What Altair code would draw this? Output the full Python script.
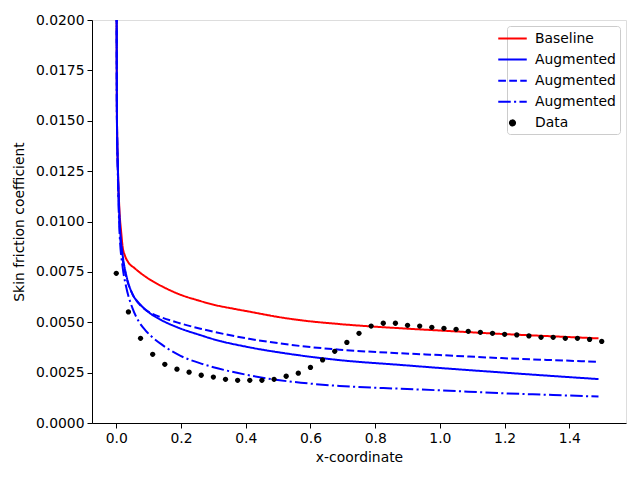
import altair as alt
import pandas as pd

# ---- data ----
x_base = [0.0003, 0.002, 0.005, 0.01, 0.015, 0.02, 0.026, 0.036, 0.057, 0.098, 0.149, 0.201,
          0.252, 0.304, 0.366, 0.41, 0.505, 0.57, 0.69, 0.88, 1.0, 1.19, 1.35, 1.49]
baseline = [0.030, 0.0153, 0.0127, 0.0105, 0.0095, 0.0087, 0.00834, 0.00800, 0.00768, 0.00718,
            0.00672, 0.00635, 0.00609, 0.00586, 0.00566, 0.00553, 0.00525, 0.00510, 0.00491,
            0.00470, 0.00459, 0.00442, 0.00430, 0.00420]

x_aug = [0.0003, 0.002, 0.005, 0.01, 0.02, 0.03, 0.05, 0.07, 0.09, 0.11, 0.14, 0.19,
         0.26, 0.30, 0.41, 0.505, 0.57, 0.69, 0.88, 1.0, 1.19, 1.35, 1.49]
aug_solid = [0.030, 0.0153, 0.0127, 0.0102, 0.0083, 0.0074, 0.0064, 0.00595, 0.00563, 0.00538,
             0.00510, 0.00474, 0.00436, 0.00416, 0.00376, 0.00350, 0.00335, 0.00312, 0.00288,
             0.00273, 0.00251, 0.00233, 0.00218]
aug_dashed = [0.030, 0.0152, 0.0125, 0.0099, 0.0081, 0.0073, 0.0064, 0.00592, 0.00562, 0.00543,
              0.00524, 0.00498, 0.00468, 0.00453, 0.00418, 0.00395, 0.00382, 0.00364, 0.00346,
              0.00337, 0.00322, 0.00312, 0.00304]
aug_dashdot = [0.030, 0.0150, 0.0122, 0.0095, 0.0077, 0.0068, 0.0057, 0.00503, 0.00460, 0.00428,
               0.00390, 0.00340, 0.00296, 0.00277, 0.00237, 0.00212, 0.00200, 0.00184, 0.00170,
               0.00162, 0.00148, 0.00139, 0.00131]

x_data = [0.0, 0.0375, 0.075, 0.1125, 0.15, 0.1875, 0.225, 0.2625, 0.3, 0.3375, 0.375,
          0.4125, 0.45, 0.4875, 0.525, 0.5625, 0.6, 0.6375, 0.675, 0.7125, 0.75, 0.7875,
          0.825, 0.8625, 0.9, 0.9375, 0.975, 1.0125, 1.05, 1.0875, 1.125, 1.1625, 1.2,
          1.2375, 1.275, 1.3125, 1.35, 1.3875, 1.425, 1.4625, 1.5]
y_data = [0.00743, 0.00551, 0.00420, 0.00341, 0.00291, 0.00267, 0.00252, 0.00237, 0.00228,
          0.00217, 0.00212, 0.00212, 0.00212, 0.00217, 0.00232, 0.00247, 0.00276, 0.00313,
          0.00356, 0.00400, 0.00445, 0.00481, 0.00495, 0.00495, 0.00485, 0.00481, 0.00475,
          0.00470, 0.00465, 0.00455, 0.00450, 0.00445, 0.00440, 0.00437, 0.00432, 0.00425,
          0.00425, 0.00420, 0.00420, 0.00415, 0.00405]

series_names = ["Baseline", "Augmented (a)", "Augmented (b)", "Augmented (c)", "Data"]
series_colors = ["#ff0000", "#0000ff", "#0000ff", "#0000ff", "#000000"]
series_dashes = [[1, 0], [1, 0], [7.7, 3.3], [12.5, 3.3, 2.1, 3.3], [1, 0]]
line_sym = "M-1.9,0H1.9"
dot_sym = "M-0.34,0A0.34,0.34,0,1,0,0.34,0A0.34,0.34,0,1,0,-0.34,0Z"
series_shapes = [line_sym, line_sym, line_sym, line_sym, dot_sym]

rows = []
for name, xs, ys in zip(series_names[:4], [x_base, x_aug, x_aug, x_aug],
                        [baseline, aug_solid, aug_dashed, aug_dashdot]):
    for i, (xv, yv) in enumerate(zip(xs, ys)):
        rows.append({"x": xv, "y": yv, "series": name, "order": i})
curves = pd.DataFrame(rows)
points = pd.DataFrame({"x": x_data, "y": y_data, "series": "Data"})

font = "DejaVu Sans"
fs = 13.9

xscale = alt.Scale(domain=[-0.075, 1.575], nice=False, zero=False)
yscale = alt.Scale(domain=[0, 0.02], nice=False)

xaxis = alt.Axis(title="x-coordinate", values=[0, 0.2, 0.4, 0.6, 0.8, 1.0, 1.2, 1.4],
                 format=".1f", grid=False, tickSize=5, tickColor="black", domainColor="black",
                 labelColor="black", labelFontSize=fs, labelFont=font, titleFont=font,
                 titleFontSize=fs, titleFontWeight="normal", titleColor="black",
                 labelPadding=3, titlePadding=6, labelFlush=False)
yaxis = alt.Axis(title="Skin friction coefficient",
                 values=[0, 0.0025, 0.005, 0.0075, 0.01, 0.0125, 0.015, 0.0175, 0.02],
                 format=".4f", grid=False, tickSize=5, tickColor="black", domainColor="black",
                 labelColor="black", labelFontSize=fs, labelFont=font, titleFont=font,
                 titleFontSize=fs, titleFontWeight="normal", titleColor="black",
                 labelPadding=3, titlePadding=9, labelFlush=False)

legend = alt.Legend(
    title=None, orient="top-right", offset=6,
    labelExpr="(datum.label == 'Baseline' || datum.label == 'Data') ? datum.label : 'Augmented'",
    labelFont=font, labelFontSize=fs, labelColor="black",
    symbolSize=225, symbolStrokeWidth=2,
    symbolOffset=-7, labelOffset=14, rowPadding=5.1, padding=4,
    fillColor="white", strokeColor="#cccccc", cornerRadius=3,
)

color = alt.Color("series:N", scale=alt.Scale(domain=series_names, range=series_colors),
                  legend=legend)
dash = alt.StrokeDash("series:N", scale=alt.Scale(domain=series_names, range=series_dashes),
                      legend=legend)
shape = alt.Shape("series:N", scale=alt.Scale(domain=series_names, range=series_shapes),
                  legend=legend)

lines = alt.Chart(curves).mark_line(clip=True, strokeWidth=2, interpolate="monotone").encode(
    x=alt.X("x:Q", scale=xscale, axis=xaxis),
    y=alt.Y("y:Q", scale=yscale, axis=yaxis),
    color=color,
    strokeDash=dash,
    order="order:Q",
)

dots = alt.Chart(points).mark_point(size=240, opacity=1, filled=True, clip=True).encode(
    x=alt.X("x:Q", scale=xscale),
    y=alt.Y("y:Q", scale=yscale),
    color=color,
    shape=shape,
)

chart = alt.layer(lines, dots).properties(
    width=534, height=403,
    autosize=alt.AutoSizeParams(type="none"),
    padding={"left": 84, "top": 12, "right": 6, "bottom": 49},
).configure_view(stroke="black", strokeWidth=1).configure(background="white")

chart.save("out.html", embed_options={"renderer": "svg", "actions": False})
